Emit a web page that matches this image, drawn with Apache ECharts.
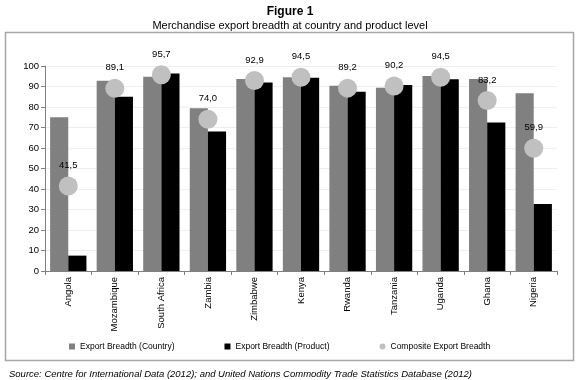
<!DOCTYPE html>
<html>
<head>
<meta charset="utf-8">
<script src="https://cdn.jsdelivr.net/npm/echarts@6/dist/echarts.min.js"></script>
<style>
  html, body { margin: 0; padding: 0; background: #fff; }
  #chart { width: 580px; height: 380px; }
</style>
</head>
<body>
<div id="chart"></div>
<script>
const countries = ['Angola', 'Mozambique', 'South Africa', 'Zambia', 'Zimbabwe', 'Kenya',
  'Rwanda', 'Tanzania', 'Uganda', 'Ghana', 'Nigeria']
const breadthCountry = [75, 92.8, 94.8, 79.4, 93.7, 94.5, 90.4, 89.4, 95.1, 93.7, 86.7]
const breadthProduct = [7.5, 85, 96.4, 68.1, 91.9, 94.3, 87.5, 90.7, 93.5, 72.5, 32.7]
const composite = [41.5, 89.1, 95.7, 74.0, 92.9, 94.5, 89.2, 90.2, 94.5, 83.2, 59.9]
const yTicks = [0, 10, 20, 30, 40, 50, 60, 70, 80, 90, 100]

const font = '"Liberation Sans", Arial, sans-serif'
const chart = echarts.init(document.getElementById('chart'))

chart.setOption({
  backgroundColor: '#fff',
  animation: false,
  textStyle: { fontFamily: font },
  title: [
    {
      text: 'Figure 1',
      left: 'center',
      top: 1,
      textStyle: { fontFamily: font, fontSize: 12, fontWeight: 'bold', color: '#000' },
    },
    {
      text: 'Merchandise export breadth at country and product level',
      left: 'center',
      top: 15,
      textStyle: { fontFamily: font, fontSize: 11, fontWeight: 'normal', color: '#000' },
    },
    {
      text: 'Source: Centre for International Data (2012); and United Nations Commodity Trade Statistics Database (2012)',
      left: 4,
      top: 364,
      textStyle: { fontFamily: font, fontSize: 9.5, fontStyle: 'italic', fontWeight: 'normal', color: '#000' },
    },
  ],
  graphic: [
    {
      type: 'rect',
      shape: { x: 5.5, y: 32.5, width: 568, height: 328 },
      style: { fill: 'none', stroke: '#a6a6a6', lineWidth: 1.5 },
      silent: true,
    },
  ],
  legend: {
    top: 337,
    left: 64,
    itemWidth: 6,
    itemHeight: 6,
    itemGap: 50,
    textStyle: { fontFamily: font, fontSize: 8.5, color: '#000' },
    data: [
      { name: 'Export Breadth (Country)', icon: 'rect' },
      { name: 'Export Breadth (Product)', icon: 'rect' },
      { name: 'Composite Export Breadth', icon: 'circle' },
    ],
  },
  grid: { left: 45, right: 23, top: 66, bottom: 109 },
  xAxis: {
    type: 'category',
    data: countries,
    axisLine: { lineStyle: { color: '#808080' } },
    axisTick: { show: true, alignWithLabel: false, length: 4, lineStyle: { color: '#808080' } },
    axisLabel: { rotate: 90, fontSize: 9.5, color: '#000', interval: 0, margin: 6 },
  },
  yAxis: {
    type: 'value',
    min: yTicks[0],
    max: yTicks[yTicks.length - 1],
    interval: 10,
    axisLine: { show: true, lineStyle: { color: '#808080' } },
    axisTick: { show: true, length: 4, lineStyle: { color: '#808080' } },
    axisLabel: { fontSize: 9.5, color: '#000', margin: 6 },
    splitLine: { lineStyle: { color: '#eeeeee' } },
  },
  series: [
    {
      name: 'Export Breadth (Country)',
      type: 'bar',
      data: breadthCountry,
      barGap: '0%',
      barCategoryGap: '22%',
      itemStyle: { color: '#808080' },
    },
    {
      name: 'Export Breadth (Product)',
      type: 'bar',
      data: breadthProduct,
      itemStyle: { color: '#000' },
    },
    {
      name: 'Composite Export Breadth',
      type: 'scatter',
      data: composite,
      symbolSize: 19,
      itemStyle: { color: '#c0c0c0', opacity: 1 },
      label: {
        show: true,
        position: 'top',
        distance: 6,
        fontSize: 9.5,
        color: '#000',
        formatter: (p) => p.value.toFixed(1).replace('.', ','),
      },
      z: 5,
    },
  ],
})
</script>
</body>
</html>
